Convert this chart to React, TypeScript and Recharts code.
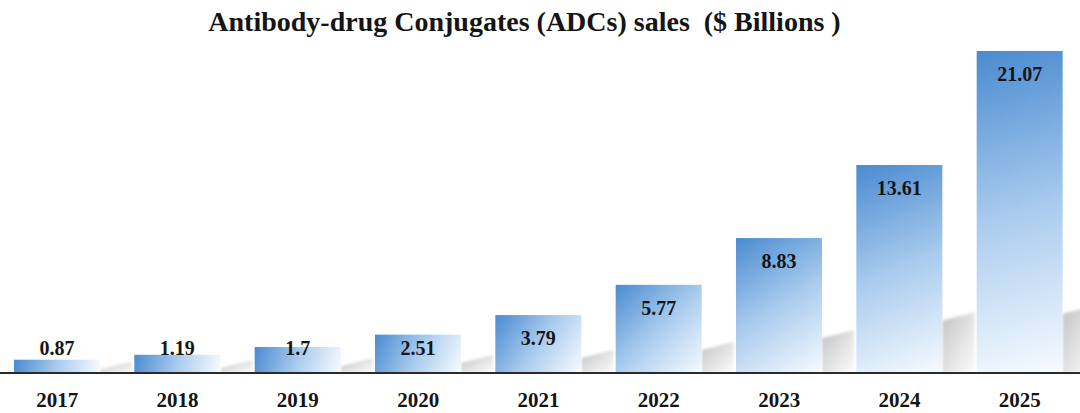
import { BarChart, Bar, XAxis, YAxis, LabelList } from "recharts";

const years = ["2017", "2018", "2019", "2020", "2021", "2022", "2023", "2024", "2025"];
const sales = [0.87, 1.19, 1.7, 2.51, 3.79, 5.77, 8.83, 13.61, 21.07];

const data = years.map((year, i) => ({ year, sales: sales[i] }));

const FONT = '"Liberation Serif", "Times New Roman", Times, serif';

// bar with a diagonal blue-to-white fill and a soft grey floor shadow to its right
function ShadowBar(props: any) {
  const { x, y, width, height, index } = props;
  const base = y + height;
  const right = x + width;
  const sh = Math.min(height * 0.26, 40 + height * 0.06);
  const sw = 32;
  const shadow = [
    `${right},${base}`,
    `${right},${base - sh}`,
    `${right + sw},${base - sh - 8}`,
    `${right + sw},${base}`,
  ].join(" ");
  const gid = `barGrad-${index}`;
  return (
    <g>
      <defs>
        <linearGradient id={gid} gradientUnits="userSpaceOnUse" x1={x} y1={y} x2={right} y2={base}>
          <stop offset="0%" stopColor="#4a8bd0" />
          <stop offset="50%" stopColor="#a9cbee" />
          <stop offset="100%" stopColor="#f7fbff" />
        </linearGradient>
      </defs>
      <polygon points={shadow} fill="url(#shadowGrad)" filter="url(#shadowBlur)" />
      <rect x={x} y={y} width={width} height={height} fill={`url(#${gid})`} />
    </g>
  );
}

function ValueLabel(props: any) {
  const { x, y, width, height, value } = props;
  const cy = Math.min(y + 23, y + height - 25);
  return (
    <text
      x={x + width / 2}
      y={cy}
      textAnchor="middle"
      dominantBaseline="central"
      fontFamily={FONT}
      fontWeight="bold"
      fontSize={20}
      fill="#151515"
    >
      {value}
    </text>
  );
}

function YearTick(props: any) {
  const { x, payload } = props;
  return (
    <text
      x={x}
      y={400}
      textAnchor="middle"
      dominantBaseline="central"
      fontFamily={FONT}
      fontWeight="bold"
      fontSize={21}
      fill="#151515"
    >
      {payload.value}
    </text>
  );
}

export default function App() {
  return (
    <div style={{ position: "absolute", left: 0, top: 0, width: 1080, height: 413, overflow: "hidden", background: "#fff" }}>
      <div
        style={{
          position: "absolute",
          left: 0,
          top: 7,
          width: 1049,
          textAlign: "center",
          fontFamily: FONT,
          fontWeight: "bold",
          fontSize: 28,
          lineHeight: "30px",
          color: "#151515",
          whiteSpace: "pre",
        }}
      >
        {"Antibody-drug Conjugates (ADCs) sales  ($ Billions )"}
      </div>
      <div style={{ position: "absolute", left: -3, top: 0 }}>
        <BarChart
          width={1083}
          height={413}
          data={data}
          margin={{ top: 51, right: 0, bottom: 0, left: 0 }}
          barSize={86}
        >
          <defs>
            <linearGradient id="shadowGrad" x1="0" y1="0" x2="1" y2="1">
              <stop offset="0%" stopColor="#c2c2c2" />
              <stop offset="55%" stopColor="#e4e4e4" />
              <stop offset="100%" stopColor="#fcfcfc" />
            </linearGradient>
            <filter id="shadowBlur" x="-20%" y="-20%" width="140%" height="140%">
              <feGaussianBlur stdDeviation="1.5" />
            </filter>
          </defs>
          <XAxis
            dataKey="year"
            height={40}
            axisLine={{ stroke: "#2b2b2b", strokeWidth: 2 }}
            tickLine={false}
            tick={<YearTick />}
            interval={0}
          />
          <YAxis hide domain={[0, 21.07]} />
          <Bar dataKey="sales" shape={<ShadowBar />} isAnimationActive={false}>
            <LabelList dataKey="sales" content={<ValueLabel />} />
          </Bar>
        </BarChart>
      </div>
    </div>
  );
}
